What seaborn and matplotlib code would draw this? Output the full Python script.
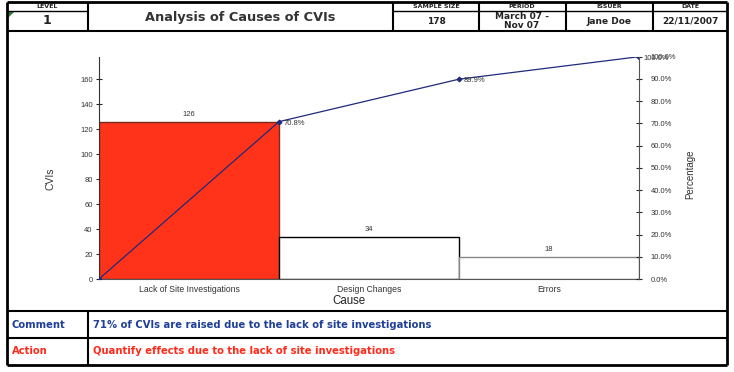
import numpy as np
import pandas as pd
import matplotlib
matplotlib.use('Agg')
import matplotlib.pyplot as plt
import seaborn as sns

# data
causes = ['Lack of Site Investigations', 'Design Changes', 'Errors']
counts = [126, 34, 18]
sample_size = 178
cvi_ticks = [0, 20, 40, 60, 80, 100, 120, 140, 160]
pct_ticks = [0, 10, 20, 30, 40, 50, 60, 70, 80, 90, 100]

header_labels = ['LEVEL', 'SAMPLE SIZE', 'PERIOD', 'ISSUER', 'DATE']
header_values = ['1', '178', 'March 07 -\nNov 07', 'Jane Doe', '22/11/2007']
title = 'Analysis of Causes of CVIs'
comment = '71% of CVIs are raised due to the lack of site investigations'
action = 'Quantify effects due to the lack of site investigations'

red = '#FF3319'
navy = '#1F2A7A'
blue_txt = '#1F3F99'
red_txt = '#FF2B1A'

df = pd.DataFrame({'Cause': causes, 'CVIs': counts})
cum_pct = np.cumsum([0] + counts) / sample_size * 100
edges = np.arange(len(causes) + 1) - 0.5

sns.set_style('white')
plt.rcParams['font.family'] = ['Liberation Sans', 'DejaVu Sans']

W, H = 734, 372
fig = plt.figure(figsize=(W / 100, H / 100), dpi=100)

# overlay in pixel coords for the report frame
bg = fig.add_axes([0, 0, 1, 1])
bg.set_xlim(0, W)
bg.set_ylim(H, 0)
bg.axis('off')

def hline(y, x0, x1, lw=1.5):
    bg.plot([x0, x1], [y, y], color='black', lw=lw, solid_capstyle='butt')

def vline(x, y0, y1, lw=1.5):
    bg.plot([x, x], [y0, y1], color='black', lw=lw, solid_capstyle='butt')

L, R, T, B = 7, 727, 2, 365
hline(T, L, R, 2)
hline(B, L, R, 2)
vline(L, T, B, 2)
vline(R, T, B, 2)
hline(31, L, R)
hline(311, L, R)
hline(338, L, R)
vline(88, T, 31)
vline(88, 311, B)
for x in [393, 479, 566, 653]:
    vline(x, T, 31)
hline(11, L, 88, 1)
hline(11, 393, R, 1)
# little comment marker in the level cell
bg.fill([8.5, 14, 8.5], [12, 12, 17.5], color='#2E7D32', lw=0)

hdr_font = dict(family='DejaVu Sans', weight='bold', color='#222222')
col_centers = [47, 436, 522, 609, 690]
for cx, lab, val in zip(col_centers, header_labels, header_values):
    bg.text(cx, 6.5, lab, ha='center', va='center', fontsize=4.5, **hdr_font)
    fs = 9 if val == '1' else 6.5
    bg.text(cx, 21, val, ha='center', va='center', fontsize=fs,
            linespacing=1.0, **hdr_font)
bg.text(240, 17, title, ha='center', va='center', fontsize=9.3,
        family='DejaVu Sans', weight='bold', color='#333333')

row_font = dict(ha='left', va='center', fontsize=7.2, family='DejaVu Sans',
                weight='bold')
bg.text(12, 324.5, 'Comment', color=blue_txt, **row_font)
bg.text(93, 324.5, comment, color=blue_txt, **row_font)
bg.text(12, 351.5, 'Action', color=red_txt, **row_font)
bg.text(93, 351.5, action, color=red_txt, **row_font)

# chart
ax = fig.add_axes([99 / W, 1 - 279 / H, 540 / W, (279 - 56.7) / H])
sns.barplot(data=df, x='Cause', y='CVIs', hue='Cause',
            palette=[red, 'white', 'white'], width=1, legend=False,
            saturation=1, ax=ax)
for p, ec in zip(ax.patches, ['#7A2A1A', 'black', '#888888']):
    p.set_edgecolor(ec)
    p.set_linewidth(1)
for i, c in enumerate(counts):
    ax.text(i, c + 3, str(c), ha='center', va='bottom', fontsize=5.5,
            color='#333333')

ax.set_xlim(-0.5, len(causes) - 0.5)
ax.set_ylim(0, sample_size)
ax.set_yticks(cvi_ticks)
ax.set_xticks(range(len(causes)))
ax.set_xticklabels(causes)
ax.set_xticks(edges[1:-1], minor=True)
ax.tick_params(axis='x', which='major', length=0, labelsize=6.2, pad=4,
               labelcolor='#333333')
ax.tick_params(axis='x', which='minor', length=3, direction='out', color='black')
ax.tick_params(axis='y', direction='inout', length=5, labelsize=5.5,
               labelcolor='#333333', pad=2)
ax.set_xlabel('Cause', fontsize=8.3, color='#222222')
ax.xaxis.set_label_coords(0.463, -0.072)
ax.set_ylabel('CVIs', fontsize=7.5, color='#333333')
ax.yaxis.set_label_coords(-0.081, 0.45)
ax.spines['top'].set_visible(False)
ax.spines['right'].set_visible(False)
ax.spines['left'].set_color('#333333')
ax.spines['bottom'].set_color('#555555')

ax2 = ax.twinx()
sns.lineplot(x=edges, y=cum_pct, ax=ax2, color=navy, lw=0.9, marker='D',
             markersize=2.5, markeredgecolor=navy)
for x, v in zip(edges[1:], cum_pct[1:]):
    ax2.text(x + 0.025, v - 0.8, f'{v:.1f}%', ha='left', va='center',
             fontsize=5.5, color='#333333')
ax2.set_ylim(0, 100)
ax2.set_xlim(-0.5, len(causes) - 0.5)
ax2.set_yticks(pct_ticks)
ax2.set_yticklabels([f'{t:.1f}%' for t in pct_ticks])
ax2.tick_params(axis='y', direction='inout', length=5, labelsize=5.5,
                labelcolor='#333333', pad=6)
ax2.set_ylabel('Percentage', fontsize=7, color='#333333')
ax2.yaxis.set_label_coords(1.086, 0.47)
for s in ['top', 'left', 'bottom']:
    ax2.spines[s].set_visible(False)
ax2.spines['right'].set_color('#555555')

fig.savefig('out.png', dpi=100)
